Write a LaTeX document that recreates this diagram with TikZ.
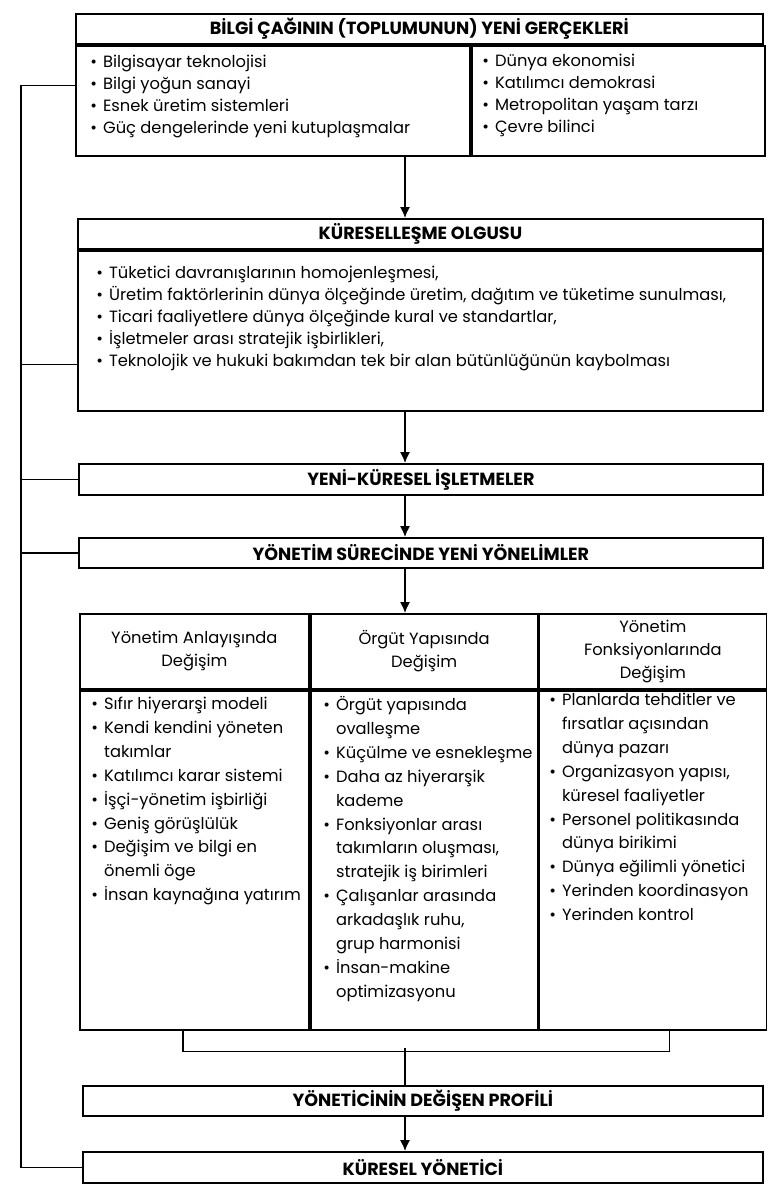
\documentclass[tikz,border=0pt]{standalone}
\usepackage{fontspec}
\setmainfont{Poppins}
\usetikzlibrary{arrows.meta}

\newcommand{\mad}{\rule{0pt}{1em}\makebox[0.32cm][l]{\textbullet}}
\newcommand{\dev}{\hspace*{0.32cm}}

\begin{document}
\begin{tikzpicture}[
  kutu/.style={draw, line width=1.25pt, inner sep=0pt, anchor=north west},
  baslik/.style={font=\bfseries\fontsize{12.5}{14}\selectfont},
  liste/.style={anchor=north west, align=left, inner sep=0pt, font=\fontsize{11.6}{#1}\selectfont},
  cizgi/.style={line width=1.1pt},
  ok/.style={line width=1.1pt, -{Latex[length=2.7mm, width=2.5mm]}}
]
\useasboundingbox (0,0) rectangle (19.3,-29.75);
\coordinate (eksen) at (10.125,0);
\coordinate (geri) at (0.525,0);

% bilgi cagi
\node[kutu, baslik, minimum width=17.175cm, minimum height=0.75cm] (bilgi) at (1.875,-0.325) {BİLGİ ÇAĞININ (TOPLUMUNUN) YENİ GERÇEKLERİ};
\node[kutu, minimum width=9.85cm, minimum height=2.75cm] (bilgisol) at (bilgi.south west) {};
\node[kutu, minimum width=7.325cm, minimum height=2.75cm] (bilgisag) at (bilgisol.north east) {};
\node[liste=15.6pt] (bilgisolmadde) at (2.25,-1.275) {\mad Bilgisayar teknolojisi\\ \mad Bilgi yoğun sanayi\\ \mad Esnek üretim sistemleri\\ \mad Güç dengelerinde yeni kutuplaşmalar};
\node[liste=15.6pt] (bilgisagmadde) at (12.05,-1.25) {\mad Dünya ekonomisi\\ \mad Katılımcı demokrasi\\ \mad Metropolitan yaşam tarzı\\ \mad Çevre bilinci};

% kuresellesme
\node[kutu, baslik, minimum width=17.125cm, minimum height=0.75cm] (kureselt) at (1.925,-5.45) {KÜRESELLEŞME OLGUSU};
\node[kutu, minimum width=17.125cm, minimum height=4cm] (kuresel) at (kureselt.south west) {};
\node[liste=14.2pt] (kureselmadde) at (2.4,-6.55) {\mad Tüketici davranışlarının homojenleşmesi,\\ \mad Üretim faktörlerinin dünya ölçeğinde üretim, dağıtım ve tüketime sunulması,\\ \mad Ticari faaliyetlere dünya ölçeğinde kural ve standartlar,\\ \mad İşletmeler arası stratejik işbirlikleri,\\ \mad Teknolojik ve hukuki bakımdan tek bir alan bütünlüğünün kaybolması};

\node[kutu, baslik, minimum width=17.1cm, minimum height=0.775cm] (isletme) at (1.95,-11.575) {YENİ-KÜRESEL İŞLETMELER};
\node[kutu, baslik, minimum width=17.1cm, minimum height=0.75cm] (yonelim) at (1.95,-13.425) {YÖNETİM SÜRECİNDE YENİ YÖNELİMLER};

% tablo
\node[kutu, minimum width=5.725cm, minimum height=1.875cm, align=center, font=\fontsize{11.6}{16.5}\selectfont] (anlayis) at (1.975,-15.325) {Yönetim Anlayışında\\Değişim};
\node[kutu, minimum width=5.675cm, minimum height=1.875cm, align=center, font=\fontsize{11.6}{16.5}\selectfont] (orgut) at (anlayis.north east) {Örgüt Yapısında\\Değişim};
\node[kutu, minimum width=5.675cm, minimum height=1.875cm, align=center, font=\fontsize{11.6}{16.5}\selectfont] (fonksiyon) at (orgut.north east) {Yönetim\\Fonksiyonlarında\\Değişim};
\node[kutu, minimum width=5.725cm, minimum height=8.475cm] (anlayisliste) at (anlayis.south west) {};
\node[kutu, minimum width=5.675cm, minimum height=8.475cm] (orgutliste) at (orgut.south west) {};
\node[kutu, minimum width=5.675cm, minimum height=8.475cm] (fonksiyonliste) at (fonksiyon.south west) {};
\node[liste=17pt] (anlayismadde) at (2.275,-17.325) {\mad Sıfır hiyerarşi modeli\\ \mad Kendi kendini yöneten\\ \dev takımlar\\ \mad Katılımcı karar sistemi\\ \mad İşçi-yönetim işbirliği\\ \mad Geniş görüşlülük\\ \mad Değişim ve bilgi en\\ \dev önemli öge\\ \mad İnsan kaynağına yatırım};
\node[liste=17pt] (orgutmadde) at (8.075,-17.35) {\mad Örgüt yapısında\\ \dev ovalleşme\\ \mad Küçülme ve esnekleşme\\ \mad Daha az hiyerarşik\\ \dev kademe\\ \mad Fonksiyonlar arası\\ \dev takımların oluşması,\\ \dev stratejik iş birimleri\\ \mad Çalışanlar arasında\\ \dev arkadaşlık ruhu,\\ \dev grup harmonisi\\ \mad İnsan-makine\\ \dev optimizasyonu};
\node[liste=17pt] (fonksiyonmadde) at (13.725,-17.225) {\mad Planlarda tehditler ve\\ \dev fırsatlar açısından\\ \dev dünya pazarı\\ \mad Organizasyon yapısı,\\ \dev küresel faaliyetler\\ \mad Personel politikasında\\ \dev dünya birikimi\\ \mad Dünya eğilimli yönetici\\ \mad Yerinden koordinasyon\\ \mad Yerinden kontrol};

\node[kutu, baslik, minimum width=17cm, minimum height=0.75cm] (profil) at (2.05,-27.125) {YÖNETİCİNİN DEĞİŞEN PROFİLİ};
\node[kutu, baslik, minimum width=17cm, minimum height=0.775cm] (yonetici) at (2.05,-28.775) {KÜRESEL YÖNETİCİ};

% oklar
\draw[ok] (bilgisol.south -| eksen) -- (kureselt.north -| eksen);
\draw[ok] (kuresel.south -| eksen) -- (isletme.north -| eksen);
\draw[ok] (isletme.south -| eksen) -- (yonelim.north -| eksen);
\draw[ok] (yonelim.south -| eksen) -- (orgut.north -| eksen);
\draw[cizgi] ([xshift=-0.29cm]anlayisliste.south) -- ++(0,-0.525) -| ([xshift=0.41cm]fonksiyonliste.south);
\coordinate (kopru) at (10.125,-26.2);
\draw[cizgi] (kopru) -- (profil.north -| kopru);
\draw[ok] (profil.south -| eksen) -- (yonetici.north -| eksen);

% geri besleme
\draw[cizgi] ([yshift=0.375cm]bilgisol.west) -| (geri |- yonetici.west) -- (yonetici.west);
\coordinate (k2) at ([yshift=-0.85cm]kuresel.west);
\draw[cizgi] (k2) -- (k2 -| geri);
\draw[cizgi] (isletme.west) -- (isletme.west -| geri);
\draw[cizgi] (yonelim.west) -- (yonelim.west -| geri);
\end{tikzpicture}
\end{document}
